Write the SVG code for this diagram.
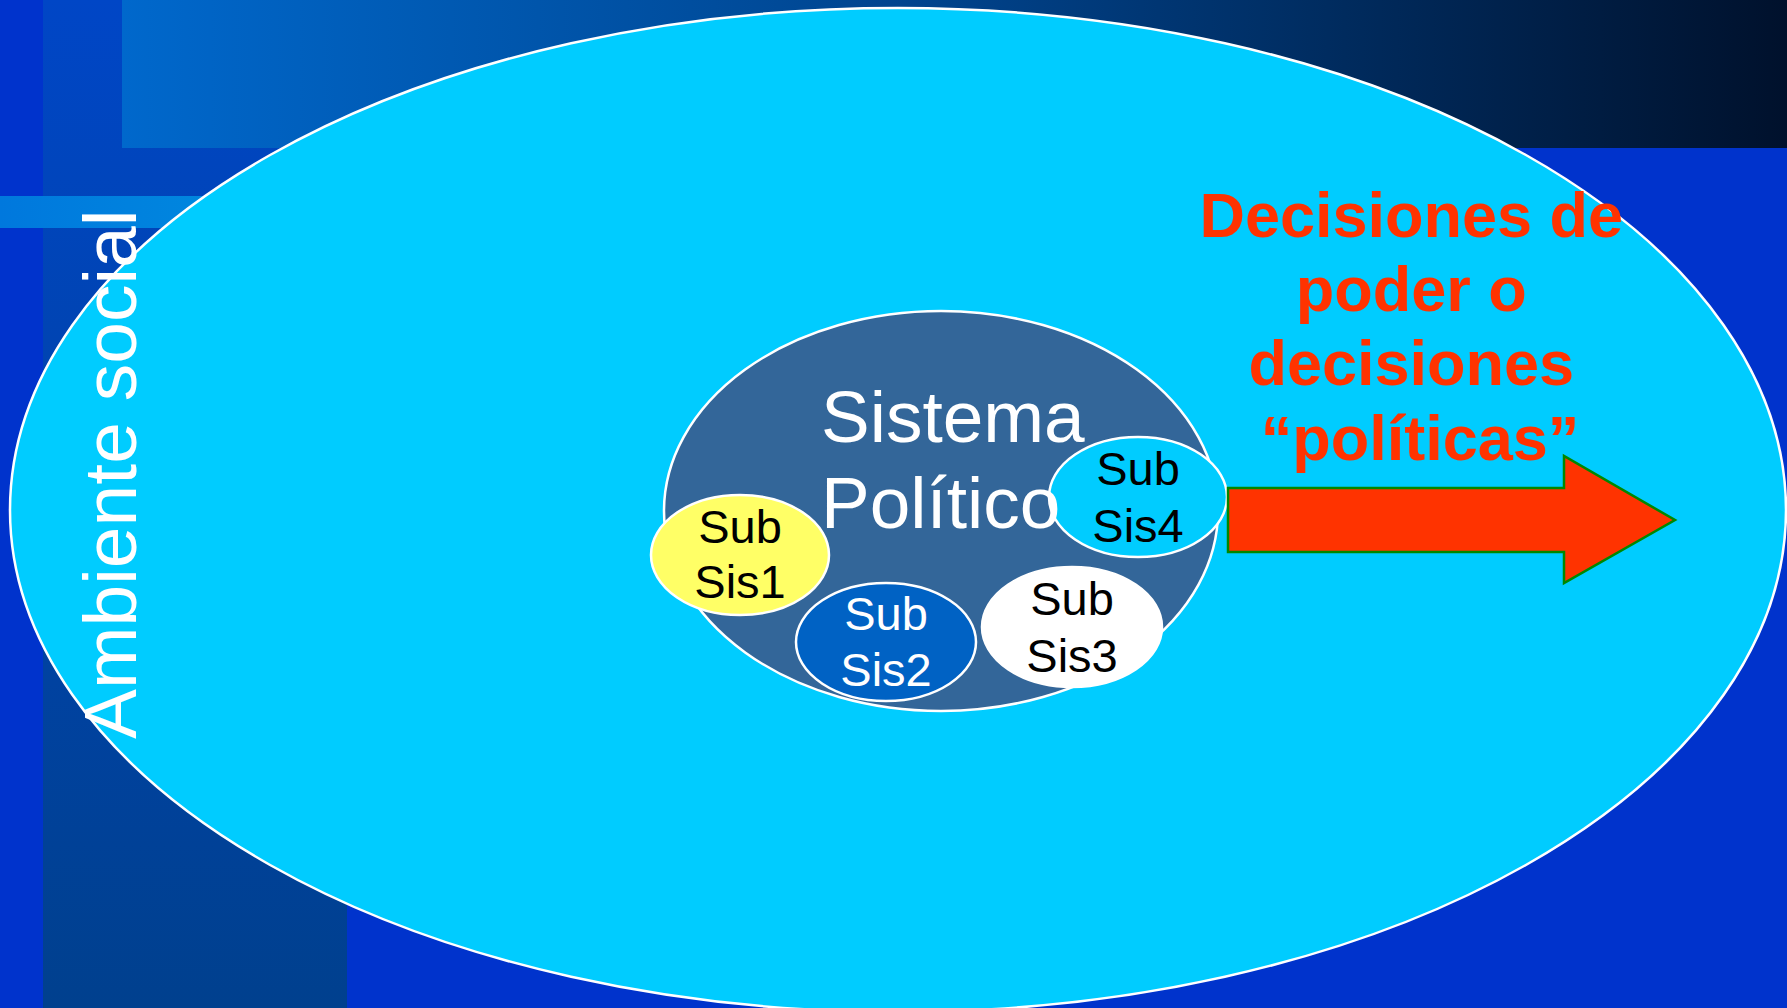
<svg xmlns="http://www.w3.org/2000/svg" width="1787" height="1008" viewBox="0 0 1787 1008">
  <defs>
    <linearGradient id="topBand" x1="122" y1="0" x2="1787" y2="0" gradientUnits="userSpaceOnUse">
      <stop offset="0" stop-color="#0068CC"/>
      <stop offset="0.5" stop-color="#00428A"/>
      <stop offset="1" stop-color="#00112C"/>
    </linearGradient>
    <linearGradient id="stripeV" x1="0" y1="0" x2="0" y2="1008" gradientUnits="userSpaceOnUse">
      <stop offset="0" stop-color="#0046C6"/>
      <stop offset="1" stop-color="#00408E"/>
    </linearGradient>
    <linearGradient id="stripeH" x1="0" y1="0" x2="400" y2="0" gradientUnits="userSpaceOnUse">
      <stop offset="0" stop-color="#0078DD"/>
      <stop offset="1" stop-color="#0094E0"/>
    </linearGradient>
    <style>
      .lbl { font-family: "Liberation Sans", Arial, sans-serif; }
      .sub { font-family: "Liberation Sans", Arial, sans-serif; font-size: 47px; text-anchor: middle; }
      .ring { stroke: #FFFFFF; stroke-width: 2.5; }
    </style>
  </defs>

  <g id="background">
    <rect x="0" y="0" width="1787" height="1008" fill="#0033CC"/>
    <rect x="43" y="0" width="304" height="1008" fill="url(#stripeV)"/>
    <rect x="122" y="0" width="1665" height="148" fill="url(#topBand)"/>
    <rect x="0" y="196" width="400" height="32" fill="url(#stripeH)"/>
  </g>

  <g id="ambiente">
    <ellipse cx="898" cy="510" rx="888" ry="502" fill="#00CCFF" class="ring"/>
    <text class="lbl" transform="translate(136,739) rotate(-90)" font-size="75" fill="#FFFFFF">Ambiente social</text>
  </g>

  <g id="sistema">
    <ellipse cx="941" cy="511" rx="277" ry="200" fill="#336699" class="ring"/>
  </g>

  <g id="subsis1">
    <ellipse cx="740" cy="555" rx="89" ry="60" fill="#FFFF66" class="ring"/>
    <text class="sub" x="740" y="543" fill="#000000">Sub</text>
    <text class="sub" x="740" y="598" fill="#000000">Sis1</text>
  </g>

  <g id="subsis2">
    <ellipse cx="886" cy="642" rx="90" ry="59" fill="#0062C4" class="ring"/>
    <text class="sub" x="886" y="630" fill="#FFFFFF">Sub</text>
    <text class="sub" x="886" y="686" fill="#FFFFFF">Sis2</text>
  </g>

  <g id="subsis3">
    <ellipse cx="1072" cy="627" rx="90" ry="60" fill="#FFFFFF" class="ring"/>
    <text class="sub" x="1072" y="615" fill="#000000">Sub</text>
    <text class="sub" x="1072" y="672" fill="#000000">Sis3</text>
  </g>

  <g id="subsis4">
    <ellipse cx="1138" cy="497" rx="89" ry="60" fill="#00CCFF" class="ring"/>
    <text class="sub" x="1138" y="485" fill="#000000">Sub</text>
    <text class="sub" x="1138" y="542" fill="#000000">Sis4</text>
  </g>

  <g id="sistema-label">
    <text class="lbl" font-size="73" fill="#FFFFFF">
      <tspan x="821" y="442">Sistema</tspan>
      <tspan x="821" y="528">Político</tspan>
    </text>
  </g>

  <g id="connectors">
    <polygon points="1228,488 1564,488 1564,456 1675,520 1564,583 1564,552 1228,552" fill="#FF3300" stroke="#008800" stroke-width="2.5" stroke-linejoin="miter"/>
  </g>

  <g id="decisiones">
    <text class="lbl" font-size="63" font-weight="bold" fill="#FF3300" text-anchor="middle">
      <tspan x="1420" y="237">Decisiones de</tspan>
      <tspan x="1420" y="311">poder o</tspan>
      <tspan x="1420" y="385">decisiones</tspan>
      <tspan x="1420" y="460">“políticas”</tspan>
    </text>
  </g>
</svg>
